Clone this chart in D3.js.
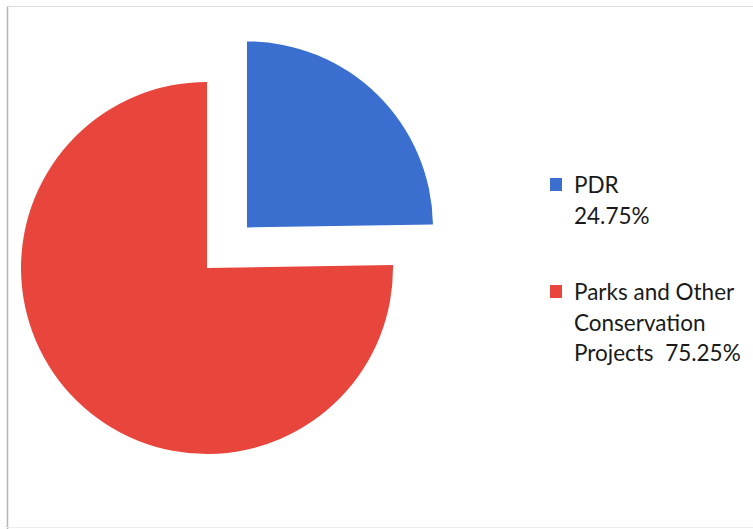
<!DOCTYPE html>
<html>
<head>
<meta charset="utf-8">
<script src="https://cdn.jsdelivr.net/npm/d3@7"></script>
<style>
  html, body { margin: 0; padding: 0; background: #fff; }
  svg { display: block; }
</style>
</head>
<body>
<svg id="chart" width="753" height="529"></svg>
<script>
// Share of conservation funding
const categories = ["PDR", "Parks and Other Conservation Projects"];
const shares = [24.75, 75.25];
const colors = ["#3a6fd0", "#e8453c"];
const legendLines = [["PDR", "24.75%"], ["Parks and Other", "Conservation", "Projects  75.25%"]];

const svg = d3.select("#chart");

// frame
svg.append("line").attr("x1", 7.5).attr("x2", 7.5).attr("y1", 6).attr("y2", 529)
  .attr("stroke", "#b5b5b5").attr("stroke-width", 1.5);
svg.append("line").attr("x1", 7).attr("x2", 753).attr("y1", 6.5).attr("y2", 6.5)
  .attr("stroke", "#dcdcdc").attr("stroke-width", 1);
svg.append("line").attr("x1", 7).attr("x2", 753).attr("y1", 527.5).attr("y2", 527.5)
  .attr("stroke", "#ececec").attr("stroke-width", 1);

const cx = 207, cy = 268, radius = 186, explode = 57;

const pie = d3.pie().sort(null).value(d => d)(shares);
const arc = d3.arc().innerRadius(0).outerRadius(radius);

const g = svg.append("g").attr("transform", `translate(${cx},${cy})`);
g.selectAll("path")
  .data(pie)
  .join("path")
  .attr("d", arc)
  .attr("fill", (d, i) => colors[i])
  .attr("transform", (d, i) => {
    if (i !== 0) return null;
    const mid = (d.startAngle + d.endAngle) / 2;
    return `translate(${explode * Math.sin(mid)},${-explode * Math.cos(mid)})`;
  });

// legend
const legendX = 550, fontSize = 22.5, lineH = 30.5;
const legendTops = [178, 285];
const lg = svg.append("g").attr("font-family", "Lato, 'Open Sans', sans-serif")
  .attr("font-size", fontSize).attr("fill", "#1a1a1a");
categories.forEach((c, i) => {
  lg.append("rect").attr("x", legendX).attr("y", legendTops[i])
    .attr("width", 12).attr("height", 13).attr("fill", colors[i]);
  legendLines[i].forEach((t, j) => {
    lg.append("text").attr("x", legendX + 24).attr("y", legendTops[i] + 15 + j * lineH)
      .attr("xml:space", "preserve").style("white-space", "pre").text(t);
  });
});
</script>
</body>
</html>
